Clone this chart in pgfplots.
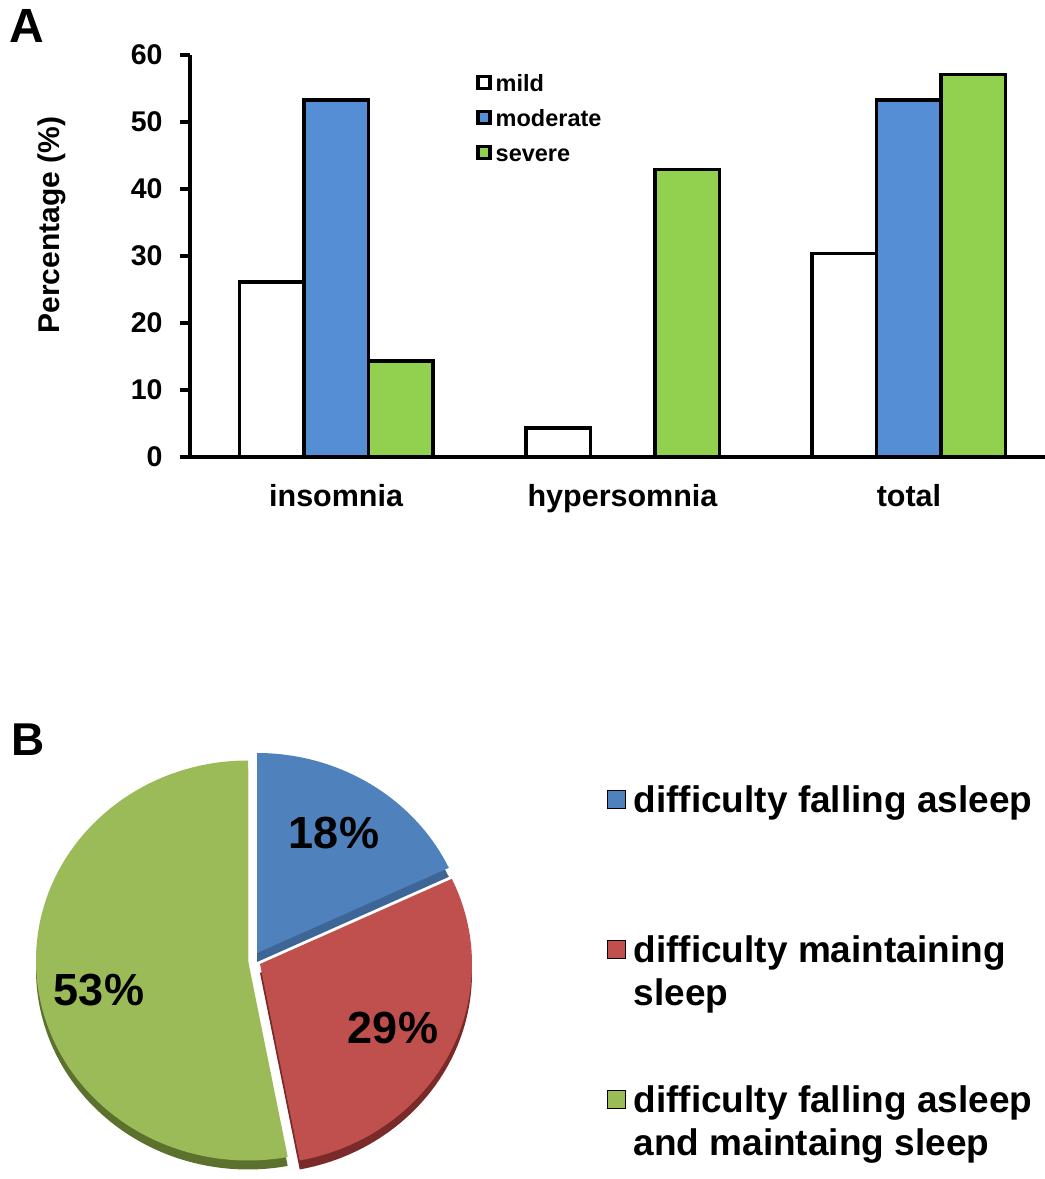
\documentclass[border=0pt]{standalone}
\usepackage{fontspec}
\setmainfont{Liberation Sans}
\usepackage{pgfplots}
\pgfplotsset{compat=1.18}
\definecolor{barblue}{HTML}{558ED5}
\definecolor{bargreen}{HTML}{92D050}
\definecolor{pieblue}{HTML}{4F81BD}
\definecolor{piebluedark}{HTML}{3D6595}
\definecolor{piered}{HTML}{C0504D}
\definecolor{piereddark}{HTML}{7A2A28}
\definecolor{piegreen}{HTML}{9BBB59}
\definecolor{piegreendark}{HTML}{5C712E}
\pgfplotsset{
  mybar/.style={draw=black, line width=3.5pt,
    legend image code/.code={\draw[##1, line width=3.5pt] (0pt,-6pt) rectangle (12pt,6pt);}},
}
\newcommand{\pieslice}[5]{\fill[#5] (axis cs:#1,#2) -- ++(#3:212pt and 200pt) arc[start angle=#3, end angle=#4, x radius=212pt, y radius=200pt] -- cycle;}
\begin{document}
\begin{tikzpicture}
\useasboundingbox (0,0) rectangle (1045pt,1179pt);
% Panel A
\begin{axis}[
  at={(190pt,722pt)}, anchor=south west,
  width=855pt, height=402pt, scale only axis,
  xmin=-0.51, xmax=2.475, ymin=0, ymax=60,
  axis x line*=bottom, axis y line*=left,
  axis line style={line width=3.5pt, -},
  ybar=0pt, bar width=64.5pt,
  xtick={0,1,2}, xticklabels={insomnia,hypersomnia,total},
  ytick={0,10,...,60},
  major x tick style={draw=none},
  major y tick style={line width=3.5pt, black},
  tick align=outside, major tick length=10pt,
  /pgf/number format/assume math mode=true,
  yticklabel style={font=\fontsize{28.5}{30}\selectfont\bfseries, xshift=-14pt},
  xticklabel style={font=\fontsize{30.5}{32}\selectfont\bfseries, yshift=-14pt},
  ylabel={Percentage (\%)},
  every axis y label/.style={at={(axis description cs:-0.1614,0.577)}, rotate=90, anchor=center, font=\fontsize{30}{32}\selectfont\bfseries},
  legend cell align=left,
  legend style={at={(0.3345,0.9527)}, anchor=north west, draw=none, fill=none, inner sep=0pt,
    row sep=18pt, column sep=4pt, nodes={inner sep=0pt, text height=17pt, text depth=0pt},
    font=\fontsize{23.5}{25}\selectfont\bfseries},
]
\addplot[mybar, fill=white] coordinates {(0,26.1) (1,4.3) (2,30.4)};
\addlegendentry{mild}
\addplot[mybar, fill=barblue] coordinates {(0,53.3) (2,53.3)};
\addlegendentry{moderate}
\addplot[mybar, fill=bargreen] coordinates {(0,14.3) (1,42.9) (2,57.1)};
\addlegendentry{severe}
\end{axis}
% Panel B
\begin{axis}[
  at={(253pt,219pt)}, anchor=center,
  x=1pt, y=1pt, xmin=-245, xmax=245, ymin=-235, ymax=235,
  hide axis, clip=false,
  legend image code/.code={\fill[#1] (0pt,4pt) rectangle (18pt,22pt);},
  legend style={at={(axis cs:354,178)}, anchor=north west, draw=none, fill=none, inner sep=0pt,
    row sep=64pt, column sep=8pt,
    cells={anchor=base west},
    nodes={inner sep=0pt, anchor=base west, text height=30pt, text depth=56pt},
    font=\fontsize{37}{43}\selectfont\bfseries},
]
\addlegendimage{fill=pieblue}
\addlegendentry{\begin{tabular}[t]{@{}l@{}}difficulty falling asleep\\\mbox{}\end{tabular}}
\addlegendimage{fill=piered}
\addlegendentry{\begin{tabular}[t]{@{}l@{}}difficulty maintaining\\sleep\end{tabular}}
\addlegendimage{fill=piegreen}
\addlegendentry{\begin{tabular}[t]{@{}l@{}}difficulty falling asleep\\and maintaing sleep\end{tabular}}
% 3D sides
\pieslice{-5}{-9.5}{90}{280.8}{piegreendark}
\pieslice{7}{-13}{25.2}{-79.2}{piereddark}
\pieslice{4}{-2}{90}{25.2}{piebluedark}
% faces (18%, 29%, 53%)
\pieslice{4}{7}{90}{25.2}{pieblue}
\pieslice{7}{-4}{25.2}{-79.2}{piered}
\pieslice{-5}{-0.5}{90}{280.8}{piegreen}
\node[font=\fontsize{45}{47}\selectfont\bfseries] at (axis cs:81,127) {18\%};
\node[font=\fontsize{45}{47}\selectfont\bfseries] at (axis cs:140,-68) {29\%};
\node[font=\fontsize{45}{47}\selectfont\bfseries] at (axis cs:-154,-30) {53\%};
\end{axis}
\node[anchor=base west, inner sep=0pt, font=\fontsize{48}{50}\selectfont\bfseries] at (9pt,1136pt) {A};
\node[anchor=base west, inner sep=0pt, font=\fontsize{46}{48}\selectfont\bfseries] at (11pt,423pt) {B};
\end{tikzpicture}
\end{document}
